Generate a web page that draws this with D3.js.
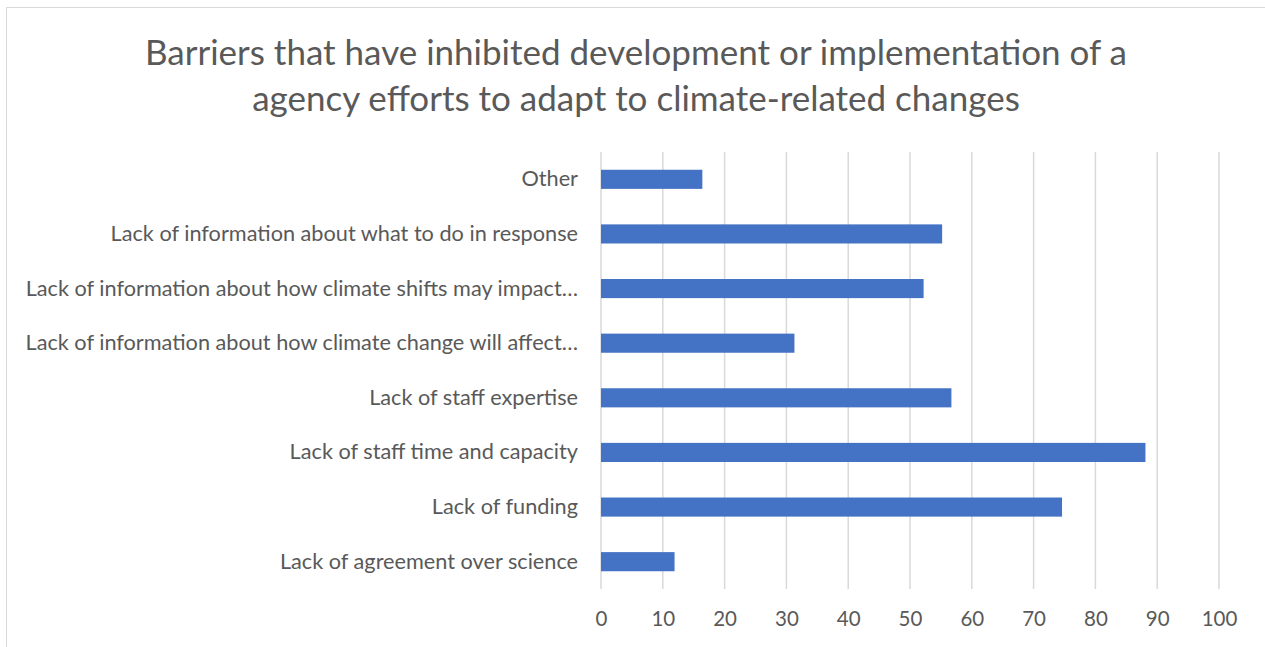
<!DOCTYPE html>
<html>
<head>
<meta charset="utf-8">
<script src="https://cdn.jsdelivr.net/npm/d3@7"></script>
<style>
  html, body { margin: 0; padding: 0; background: #ffffff; }
  svg { display: block; }
  text { font-family: Lato, "Open Sans", sans-serif; fill: #595959; }
</style>
</head>
<body>
<svg id="chart" width="1265" height="647"></svg>
<script>
// Survey responses (% of agencies) per barrier, listed top to bottom
const categories = [
  "Other",
  "Lack of information about what to do in response",
  "Lack of information about how climate shifts may impact…",
  "Lack of information about how climate change will affect…",
  "Lack of staff expertise",
  "Lack of staff time and capacity",
  "Lack of funding",
  "Lack of agreement over science"
];
const values = [16.4, 55.2, 52.2, 31.3, 56.7, 88.1, 74.6, 11.9];
const xTicks = [0, 10, 20, 30, 40, 50, 60, 70, 80, 90, 100];
const titleLines = [
  "Barriers that have inhibited development or implementation of a",
  "agency efforts to adapt to climate-related changes"
];

const svg = d3.select("#chart");
const W = 1265, H = 647;
const plot = { left: 601, right: 1219, top: 152, bottom: 589 };

// Outer chart frame (extends past the right and bottom edges)
svg.append("rect")
  .attr("x", 6.5).attr("y", 7.5)
  .attr("width", W + 10).attr("height", H + 10)
  .attr("fill", "#ffffff")
  .attr("stroke", "#d9d9d9").attr("stroke-width", 1);

// Title
svg.append("g").selectAll("text")
  .data(titleLines).join("text")
  .attr("x", 636)
  .attr("y", (d, i) => 65 + i * 46)
  .attr("text-anchor", "middle")
  .style("font-size", "35px")
  .text(d => d);

const x = d3.scaleLinear().domain([0, 100]).range([plot.left, plot.right]);
const y = d3.scaleBand().domain(categories).range([plot.top, plot.bottom]).paddingInner(0.65).paddingOuter(0.325);

// Vertical gridlines
svg.append("g").selectAll("line")
  .data(xTicks).join("line")
  .attr("x1", d => x(d)).attr("x2", d => x(d))
  .attr("y1", plot.top).attr("y2", plot.bottom)
  .attr("stroke", "#d9d9d9").attr("stroke-width", 1.5);

// Bars
svg.append("g").selectAll("rect")
  .data(values).join("rect")
  .attr("x", x(0))
  .attr("y", (d, i) => y(categories[i]))
  .attr("width", d => x(d) - x(0))
  .attr("height", y.bandwidth())
  .attr("fill", "#4472c4");

// Bottom value axis labels
const xAxis = d3.axisBottom(x).tickValues(xTicks).tickSize(0).tickPadding(0).tickFormat(d3.format("d"));
const gx = svg.append("g").attr("transform", `translate(0, ${plot.bottom + 22})`).call(xAxis);
gx.select(".domain").remove();
gx.selectAll("text")
  .attr("dy", "0.71em")
  .style("font-size", "20.5px")
  .style("font-family", "Lato, 'Open Sans', sans-serif")
  .attr("fill", "#595959");

// Category axis labels
const yAxis = d3.axisLeft(y).tickSize(0).tickPadding(23);
const gy = svg.append("g").attr("transform", `translate(${plot.left}, 0)`).call(yAxis);
gy.select(".domain").remove();
gy.selectAll("text")
  .style("font-size", "21.7px")
  .style("font-family", "Lato, 'Open Sans', sans-serif")
  .attr("fill", "#595959");
</script>
</body>
</html>
